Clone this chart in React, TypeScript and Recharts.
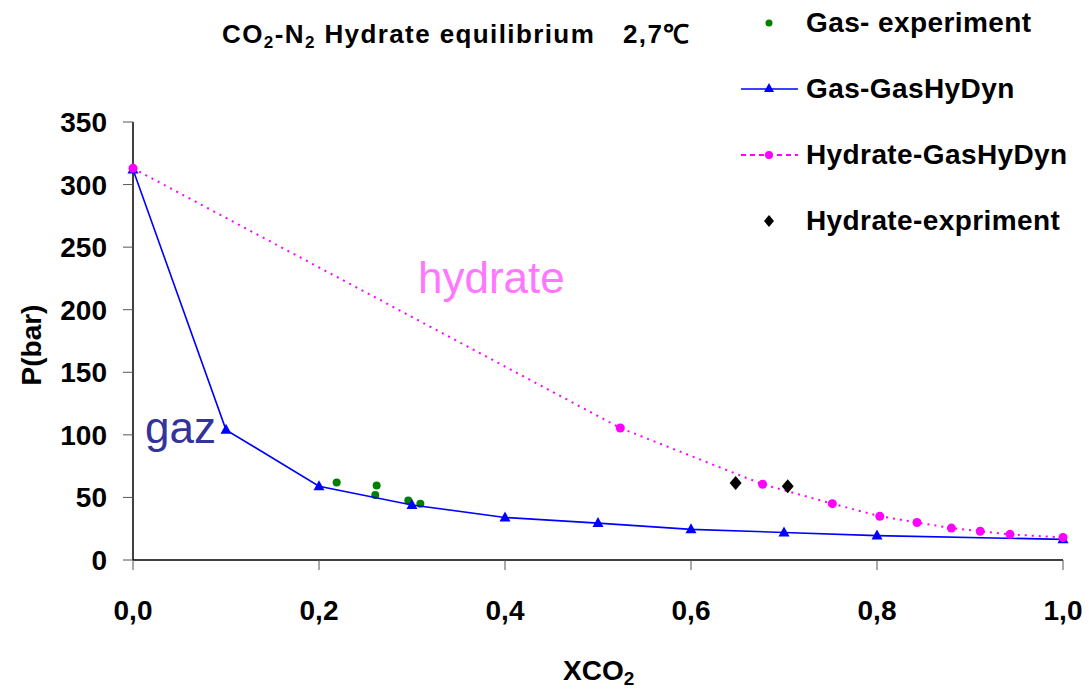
import React from "react";
import { ScatterChart, Scatter, XAxis, YAxis, Legend } from "recharts";

// values
const gasExpX = [0.219, 0.262, 0.2605, 0.296, 0.309];
const gasExpP = [62, 59.5, 52, 47.5, 45];

const gasModelX = [0, 0.1, 0.2, 0.3, 0.4, 0.5, 0.6, 0.7, 0.8, 1.0];
const gasModelP = [312, 104, 59, 44, 34, 29.5, 24.5, 22, 19.5, 16.5];

const hydModelX = [0, 0.524, 0.677, 0.752, 0.803, 0.843, 0.88, 0.911, 0.943, 1.0];
const hydModelP = [313, 105.5, 60.5, 45, 35, 30, 25.5, 23, 20.5, 18];

const hydExpX = [0.648, 0.704];
const hydExpP = [61.5, 59];

const xTicks = [0, 0.2, 0.4, 0.6, 0.8, 1.0];
const yTicks = [0, 50, 100, 150, 200, 250, 300, 350];

const seriesNames = [
  "Gas- experiment",
  "Gas-GasHyDyn",
  "Hydrate-GasHyDyn",
  "Hydrate-expriment",
];

const FONT = "'Liberation Sans', Arial, sans-serif";
const GREEN = "#008000";
const BLUE = "#0000ff";
const PINK = "#ff00ff";

const toPoints = (xs: number[], ps: number[]) =>
  xs.map((x, i) => ({ x, p: ps[i] }));

const DotShape = (color: string, r: number) => (props: any) => (
  <circle cx={props.cx} cy={props.cy} r={r} fill={color} />
);

const TriangleShape = (props: any) => {
  const { cx, cy } = props;
  return (
    <polygon
      points={`${cx},${cy - 6} ${cx + 5.5},${cy + 4} ${cx - 5.5},${cy + 4}`}
      fill={BLUE}
    />
  );
};

const DiamondShape = (props: any) => {
  const { cx, cy } = props;
  return (
    <polygon
      points={`${cx},${cy - 7} ${cx + 6},${cy} ${cx},${cy + 7} ${cx - 6},${cy}`}
      fill="#000"
    />
  );
};

// legend marker for each series, drawn in a 65x20 box
const legendIcon = (i: number) => {
  if (i === 0) return <circle cx={28} cy={10} r={3.5} fill={GREEN} />;
  if (i === 1)
    return (
      <g>
        <line x1={0} y1={10} x2={57} y2={10} stroke={BLUE} strokeWidth={1.5} />
        <polygon points="28,4 33,13 23,13" fill={BLUE} />
      </g>
    );
  if (i === 2)
    return (
      <g>
        <line
          x1={0}
          y1={10}
          x2={57}
          y2={10}
          stroke={PINK}
          strokeWidth={2}
          strokeDasharray="5 4"
        />
        <circle cx={28} cy={10} r={4} fill={PINK} />
      </g>
    );
  return <polygon points="28,4 33,10 28,16 23,10" fill="#000" />;
};

const renderLegend = () => (
  <div
    style={{
      fontFamily: FONT,
      fontWeight: "bold",
      fontSize: 28,
      letterSpacing: 0.4,
    }}
  >
    {seriesNames.map((name, i) => (
      <div
        key={name}
        style={{ height: 66, display: "flex", alignItems: "center" }}
      >
        <svg width={65} height={20}>
          {legendIcon(i)}
        </svg>
        <span>{name}</span>
      </div>
    ))}
  </div>
);

export default function App() {
  const tickStyle = {
    fontFamily: FONT,
    fontWeight: "bold" as const,
    fontSize: 28,
    fill: "#000",
  };

  return (
    <div style={{ position: "relative", width: 1089, height: 689 }}>
      <style>{`body{margin:0}`}</style>
      <ScatterChart
        width={1089}
        height={689}
        margin={{ top: 122, right: 26, bottom: 69, left: 0 }}
      >
        <XAxis
          type="number"
          dataKey="x"
          domain={[0, 1]}
          ticks={xTicks}
          tickFormatter={(v: number) => v.toFixed(1).replace(".", ",")}
          height={60}
          tickSize={10}
          tickMargin={30}
          tick={tickStyle}
          axisLine={{ stroke: "#000", strokeWidth: 1.5 }}
          tickLine={{ stroke: "#555" }}
        />
        <YAxis
          type="number"
          dataKey="p"
          domain={[0, 350]}
          ticks={yTicks}
          width={133}
          tickSize={10}
          tickMargin={16}
          tick={tickStyle}
          axisLine={{ stroke: "#000", strokeWidth: 1.5 }}
          tickLine={{ stroke: "#555" }}
        />
        <Legend
          layout="vertical"
          align="center"
          verticalAlign="middle"
          content={renderLegend}
          wrapperStyle={{ left: 741, top: -10, width: 348 }}
        />
        <Scatter
          name={seriesNames[0]}
          data={toPoints(gasExpX, gasExpP)}
          fill={GREEN}
          shape={DotShape(GREEN, 4)}
          isAnimationActive={false}
        />
        <Scatter
          name={seriesNames[1]}
          data={toPoints(gasModelX, gasModelP)}
          fill={BLUE}
          line={{ stroke: BLUE, strokeWidth: 1.6 }}
          lineType="joint"
          shape={TriangleShape}
          isAnimationActive={false}
        />
        <Scatter
          name={seriesNames[2]}
          data={toPoints(hydModelX, hydModelP)}
          fill={PINK}
          line={{ stroke: PINK, strokeWidth: 2, strokeDasharray: "2 5" }}
          lineType="joint"
          shape={DotShape(PINK, 4.5)}
          isAnimationActive={false}
        />
        <Scatter
          name={seriesNames[3]}
          data={toPoints(hydExpX, hydExpP)}
          fill="#000"
          shape={DiamondShape}
          isAnimationActive={false}
        />
      </ScatterChart>

      <svg
        width={1089}
        height={689}
        style={{ position: "absolute", left: 0, top: 0, pointerEvents: "none" }}
        fontFamily={FONT}
      >
        <text x={222} y={43} fontSize={26} fontWeight="bold" letterSpacing={1.4}>
          CO
          <tspan dy={5} fontSize={17}>2</tspan>
          <tspan dy={-5}>-N</tspan>
          <tspan dy={5} fontSize={17}>2</tspan>
          <tspan dy={-5}>{" Hydrate equilibrium"}</tspan>
          <tspan x={623}>2,7℃</tspan>
        </text>

        <text x={418} y={293} fontSize={44} fill="#ff77ff">
          hydrate
        </text>
        <text x={145} y={443} fontSize={44} fill="#333399">
          gaz
        </text>

        <text
          transform="rotate(-90)"
          x={-345}
          y={41}
          textAnchor="middle"
          fontSize={28}
          fontWeight="bold"
        >
          P(bar)
        </text>
        <text x={563} y={680} fontSize={28} fontWeight="bold">
          XCO
          <tspan dy={5} fontSize={19}>2</tspan>
        </text>
      </svg>
    </div>
  );
}
